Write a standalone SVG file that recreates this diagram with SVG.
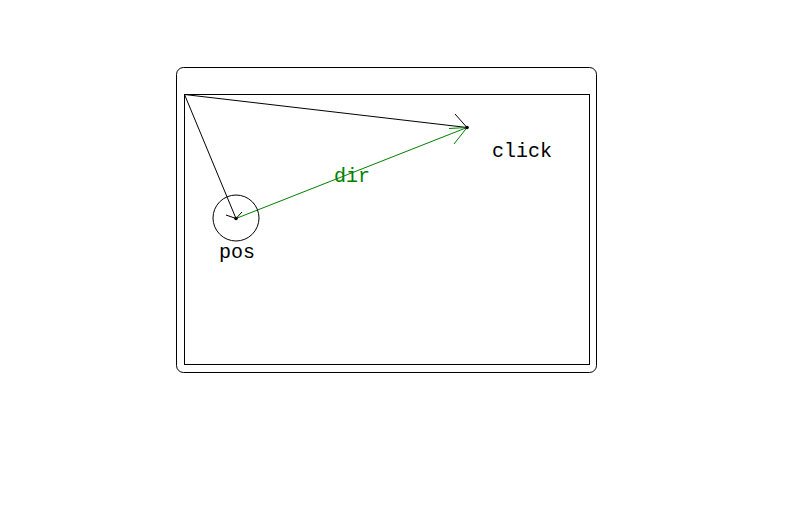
<svg xmlns="http://www.w3.org/2000/svg" width="795" height="521" viewBox="0 0 795 521">
<style>
.frame{fill:none;stroke:#000;stroke-width:1}
.blk{fill:none;stroke:#000;stroke-width:1}
.grn{fill:none;stroke:#008000;stroke-width:1}
.lbl{font-family:"Liberation Mono","DejaVu Sans Mono",monospace;font-size:20px}
</style>
<rect width="795" height="521" fill="#fff"/>
<g id="window">
<rect class="frame" x="176.5" y="67.5" width="420" height="305" rx="7"/>
<rect class="frame" x="184.5" y="94.5" width="405" height="270"/>
</g>
<g id="connectors">
<line class="blk" x1="184.5" y1="94.5" x2="467" y2="127.5"/>
<polyline class="blk" points="455,114 467,127.5"/>
<line class="blk" x1="184.5" y1="94.5" x2="236" y2="218.5"/>
<polyline class="blk" points="226,215 236,218.5 242,212"/>
<line class="grn" x1="236" y1="218.5" x2="467" y2="127.5"/>
<polyline class="grn" points="449,128.5 467,127.5 454,144"/>
</g>
<g id="pos">
<circle cx="236" cy="218" r="23" fill="none" stroke="#000"/>
<circle cx="236" cy="218.5" r="1.8" fill="#000"/>
<text class="lbl" x="219" y="258">pos</text>
</g>
<g id="click">
<circle cx="467" cy="127.5" r="1.8" fill="#000"/>
<text class="lbl" x="492" y="157">click</text>
</g>
<g id="dir">
<text class="lbl" x="334" y="182" fill="#008000">dir</text>
</g>
</svg>
